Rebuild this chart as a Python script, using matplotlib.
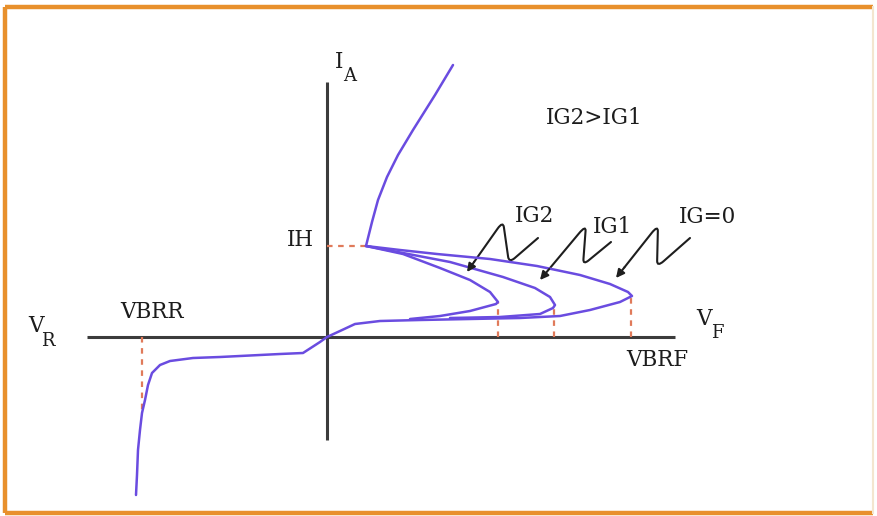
import matplotlib
matplotlib.use("Agg")
import matplotlib.pyplot as plt
from matplotlib.path import Path
from matplotlib.patches import PathPatch

# Drawing units: horizontal = voltage (V), vertical = anode current (I),
# origin at the crossing of the two axes.
ORIGIN_PX = (327, 337)

# On-state branch (above the holding current)
on_v = [126, 108, 86, 71, 60, 51, 45, 39]
on_i = [272, 242, 207, 182, 160, 137, 115, 91]

# Forward blocking / switching branches for each gate current
ig0_v = [39, 73, 110, 163, 210, 253, 283, 301, 305, 293, 263, 233, 193, 143, 93, 53, 28, 13, 0]
ig0_i = [91, 87, 83, 78, 71, 62, 53, 45, 41, 35, 27, 21, 19, 18, 17, 16, 13, 6, 0]

ig1_v = [39, 76, 123, 176, 208, 223, 228, 226, 213, 173, 123]
ig1_i = [91, 84, 75, 60, 49, 40, 32, 29, 23, 20, 19]

ig2_v = [39, 76, 113, 143, 163, 171, 169, 143, 113, 83]
ig2_i = [91, 83, 69, 57, 45, 35, 33, 26, 21, 18]

# Reverse branch down to breakdown
rev_v = [0, -7, -24, -47, -67, -107, -134, -157, -167, -175, -179, -182, -185, -187, -189, -190, -191]
rev_i = [0, -5, -16, -17, -18, -20, -21, -24, -28, -36, -48, -63, -76, -93, -113, -138, -158]

# Breakover voltages (forward) and reverse breakdown voltage
vbo = [171, 227, 304]
vbo_i = [35, 30, 41]
vbrr = -185
vbrr_i = -76
ih = 91
ih_v = 39

# Hand-drawn pointer squiggles: tip, peak, valley, end
sq_ig2 = [(140, 65), (176, 116), (182, 74), (211, 99)]
sq_ig1 = [(213, 57), (259, 112), (256, 72), (284, 95)]
sq_ig0 = [(289, 59), (331, 112), (330, 70), (363, 99)]

W, H = 878, 516
fig = plt.figure(figsize=(W / 100, H / 100), dpi=100)
fig.patch.set_facecolor("white")
ax = fig.add_axes([0, 0, 1, 1])
ax.set_xlim(-ORIGIN_PX[0], W - ORIGIN_PX[0])
ax.set_ylim(ORIGIN_PX[1] - H, ORIGIN_PX[1])
ax.axis("off")

# Orange frame
frame_kw = dict(transform=fig.transFigure, color="#e8902c", lw=3.2, solid_capstyle="butt")
fig.add_artist(plt.Line2D([5 / W, 873 / W], [1 - 7 / H, 1 - 7 / H], **frame_kw))
fig.add_artist(plt.Line2D([5 / W, 5 / W], [1 - 7 / H, 1 - 513 / H], **frame_kw))
fig.add_artist(plt.Line2D([5 / W, 873 / W], [1 - 513 / H, 1 - 513 / H], **frame_kw))
fig.add_artist(plt.Line2D([873 / W, 873 / W], [1 - 7 / H, 1 - 513 / H],
                          transform=fig.transFigure, color="#f3e6cf", lw=1.5))

axis_c = "#3c3c3c"
ax.plot([-240, 348], [0, 0], color=axis_c, lw=2.2, solid_capstyle="butt")
ax.plot([0, 0], [-103, 255], color=axis_c, lw=2.2, solid_capstyle="butt")

# Dashed guide lines
dash_kw = dict(color="#e07a5a", lw=1.6, ls=(0, (2.5, 2.5)))
ax.plot([0, ih_v], [ih, ih], **dash_kw)
ax.plot([vbrr, vbrr], [0, vbrr_i], **dash_kw)
for v, i in zip(vbo, vbo_i):
    ax.plot([v, v], [0, i], **dash_kw)

curve_c = "#6a4ce0"
for xs, ys in [(on_v, on_i), (ig0_v, ig0_i), (ig1_v, ig1_i), (ig2_v, ig2_i), (rev_v, rev_i)]:
    ax.plot(xs, ys, color=curve_c, lw=1.8, solid_joinstyle="round", solid_capstyle="round")


def squiggle(pts, color="#1e1e1e"):
    """Cursive 'N' pointer: tip -> rounded peak -> rounded valley -> tail."""
    (tx, ty), (px, py), (vx, vy), (ex, ey) = pts
    s = (tx + 0.2 * (px - tx), ty + 0.2 * (py - ty))
    a1 = (tx + 0.85 * (px - tx), ty + 0.85 * (py - ty))
    b1 = (px + 0.15 * (vx - px), py + 0.15 * (vy - py))
    a2 = (px + 0.85 * (vx - px), py + 0.85 * (vy - py))
    b2 = (vx + 0.2 * (ex - vx), vy + 0.2 * (ey - vy))
    verts = [s, a1, (px, py), b1, a2, (vx, vy), b2, (ex, ey)]
    codes = [Path.MOVETO, Path.LINETO, Path.CURVE3, Path.CURVE3,
             Path.LINETO, Path.CURVE3, Path.CURVE3, Path.LINETO]
    ax.add_patch(PathPatch(Path(verts, codes), fill=False, ec=color, lw=1.5,
                           capstyle="round", joinstyle="round"))
    ax.annotate("", xy=(tx, ty), xytext=s,
                arrowprops=dict(arrowstyle="-|>", color=color, lw=1.5,
                                mutation_scale=12, shrinkA=0, shrinkB=0))


for pts in (sq_ig2, sq_ig1, sq_ig0):
    squiggle(pts)

txt_kw = dict(family="DejaVu Serif", color="#1c1c1c")
fs = 15.5
sub = 13
ax.text(267, 219, "IG2>IG1", fontsize=fs, ha="center", va="center", **txt_kw)
ax.text(208, 121, "IG2", fontsize=fs, ha="center", va="center", **txt_kw)
ax.text(286, 110, "IG1", fontsize=fs, ha="center", va="center", **txt_kw)
ax.text(381, 120, "IG=0", fontsize=fs, ha="center", va="center", **txt_kw)
ax.text(-27, 97, "IH", fontsize=fs, ha="center", va="center", **txt_kw)
ax.text(-175, 25, "VBRR", fontsize=fs, ha="center", va="center", **txt_kw)
ax.text(330, -23, "VBRF", fontsize=fs, ha="center", va="center", **txt_kw)
ax.text(-291, 11, "V", fontsize=fs, ha="center", va="center", **txt_kw)
ax.text(-279, -4, "R", fontsize=sub, ha="center", va="center", **txt_kw)
ax.text(377, 18, "V", fontsize=fs, ha="center", va="center", **txt_kw)
ax.text(390, 4, "F", fontsize=sub, ha="center", va="center", **txt_kw)
ax.text(12, 275, "I", fontsize=fs, ha="center", va="center", **txt_kw)
ax.text(23, 261, "A", fontsize=sub, ha="center", va="center", **txt_kw)

fig.savefig("out.png", dpi=100, facecolor="white")
